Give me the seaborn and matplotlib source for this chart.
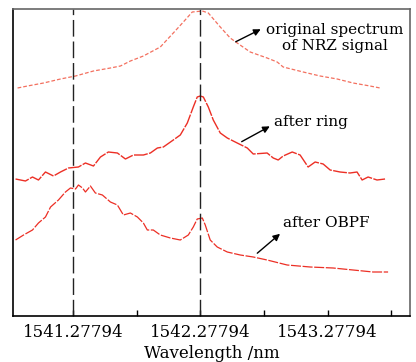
import numpy as np
import pandas as pd
import matplotlib.pyplot as plt
import seaborn as sns

# centre wavelength of the spectra (nm)
center = 1542.27794

# offsets from centre (nm) and relative power (arb. units)
orig_off = [-1.435, -1.357, -1.231, -1.098, -0.980, -0.839, -0.706, -0.627, -0.549, -0.447,
            -0.314, -0.212, -0.133, -0.063, 0.016, 0.063, 0.157, 0.235, 0.290, 0.392,
            0.525, 0.604, 0.651, 0.808, 0.941, 1.075, 1.200, 1.333, 1.412]
orig_pow = [228, 230, 233, 237, 240, 245, 248, 250, 255, 260,
            269, 283, 294, 304, 305, 303, 289, 278, 273, 264,
            258, 254, 249, 244, 240, 237, 233, 230, 228]

ring_off = [-1.451, -1.373, -1.318, -1.271, -1.216, -1.153, -1.098, -1.035, -0.957, -0.902,
            -0.839, -0.784, -0.722, -0.651, -0.588, -0.525, -0.447, -0.392, -0.337, -0.290,
            -0.212, -0.157, -0.102, -0.055, -0.024, 0.0, 0.024, 0.063, 0.102, 0.157,
            0.212, 0.290, 0.369, 0.416, 0.525, 0.573, 0.612, 0.651, 0.722, 0.784,
            0.847, 0.902, 0.965, 1.020, 1.098, 1.176, 1.231, 1.271, 1.318, 1.388, 1.451]
ring_pow = [137, 135, 139, 136, 144, 140, 144, 148, 149, 153,
            150, 159, 164, 163, 157, 161, 161, 163, 168, 169,
            176, 181, 193, 209, 219, 220, 219, 209, 196, 183,
            178, 173, 168, 162, 163, 158, 156, 160, 164, 161,
            149, 154, 152, 146, 144, 143, 144, 136, 139, 136, 137]

obpf_off = [-1.451, -1.388, -1.318, -1.271, -1.216, -1.176, -1.114, -1.059, -1.020, -0.980,
            -0.957, -0.925, -0.902, -0.863, -0.824, -0.769, -0.706, -0.651, -0.604, -0.549,
            -0.494, -0.447, -0.416, -0.369, -0.314, -0.235, -0.157, -0.094, -0.055, -0.024,
            0.016, 0.039, 0.078, 0.133, 0.212, 0.314, 0.416, 0.525, 0.682, 0.863,
            1.043, 1.200, 1.357, 1.475]
obpf_pow = [76, 81, 86, 93, 99, 109, 116, 124, 128, 127,
            131, 128, 124, 130, 123, 121, 114, 111, 101, 103,
            99, 93, 86, 86, 81, 78, 76, 81, 89, 97,
            98, 91, 76, 69, 64, 61, 59, 56, 51, 49,
            48, 46, 44, 44]

major_ticks = [1541.27794, 1542.27794, 1543.27794]
minor_ticks = [1541.77794, 1542.77794, 1543.77794]
marker_lines = [1541.27794, 1542.27794]

sns.set_style("ticks")
plt.rcParams['font.family'] = ['DejaVu Serif']
plt.rcParams['text.color'] = 'black'
plt.rcParams['xtick.color'] = 'black'
plt.rcParams['axes.labelcolor'] = 'black'

fig = plt.figure(figsize=(4.16, 3.62), dpi=100)
ax = fig.add_axes([13 / 416, 46 / 362, 397 / 416, 307 / 362])

red = '#ec2f25'
for off, pw, col, lw, dash in [(orig_off, orig_pow, '#f3705f', 0.9, (3, 1.6)),
                               (ring_off, ring_pow, red, 1.0, (10, 1.0)),
                               (obpf_off, obpf_pow, red, 0.9, (8, 1.3))]:
    df = pd.DataFrame({'wl': center + np.array(off), 'p': pw})
    line_ax = sns.lineplot(data=df, x='wl', y='p', ax=ax, color=col, lw=lw, sort=False)
    line_ax.lines[-1].set_dashes(dash)

for x in marker_lines:
    ax.axvline(x, color='#222222', lw=1.0, dashes=(12, 3.5))

ax.set_xlim(1540.807, 1543.925)
ax.set_ylim(0, 307)
ax.set_yticks([])
ax.set_xticks(major_ticks)
ax.set_xticklabels([f"{t:.5f}" for t in major_ticks])
ax.set_xticks(minor_ticks, minor=True)
ax.tick_params(axis='x', which='both', direction='in', length=4, width=1,
               labelsize=12, pad=6)
ax.set_ylabel('')
ax.set_xlabel('Wavelength /nm', fontsize=12, labelpad=3)

for s in ['left', 'bottom']:
    ax.spines[s].set_color('black')
    ax.spines[s].set_linewidth(1.2)
for s in ['top', 'right']:
    ax.spines[s].set_color('#666666')
    ax.spines[s].set_linewidth(1.2)

arrow = dict(arrowstyle='-|>', color='black', lw=1.0, mutation_scale=10)
ax.annotate('', xy=(center + 0.494, 288), xytext=(center + 0.259, 273), arrowprops=arrow)
ax.text(center + 1.059, 278, 'original spectrum\nof NRZ signal', ha='center', va='center',
        fontsize=11, linespacing=1.1)
ax.annotate('', xy=(center + 0.565, 191), xytext=(center + 0.306, 173), arrowprops=arrow)
ax.text(center + 0.580, 194, 'after ring', ha='left', va='center', fontsize=11)
ax.annotate('', xy=(center + 0.643, 84), xytext=(center + 0.431, 61), arrowprops=arrow)
ax.text(center + 0.651, 93, 'after OBPF', ha='left', va='center', fontsize=11)

plt.savefig('out.png', dpi=100)
plt.close()
